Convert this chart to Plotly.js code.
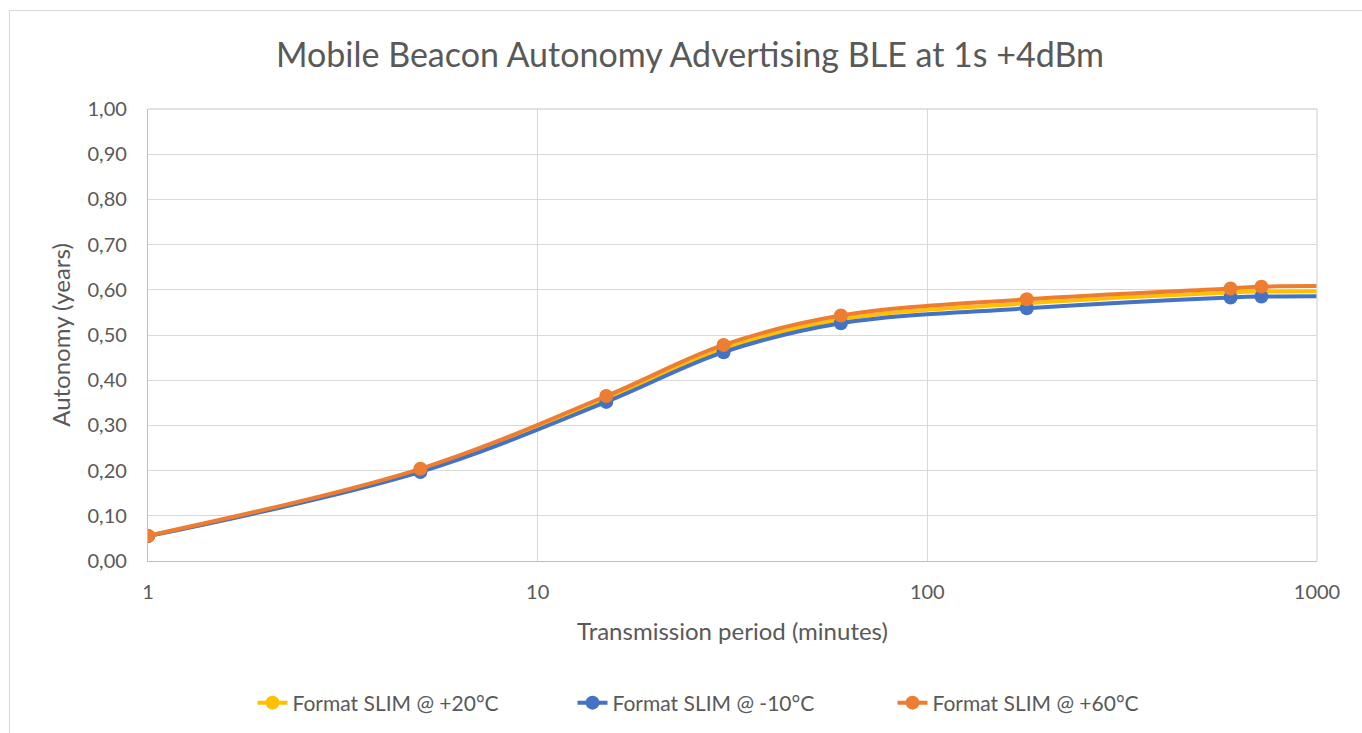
<!DOCTYPE html>
<html>
<head>
<meta charset="utf-8">
<script src="https://cdn.plot.ly/plotly-3.0.1.min.js"></script>
<style>
html,body{margin:0;padding:0;background:#fff;}
#chart{position:absolute;left:0;top:0;width:1362px;height:733px;}
#frame{position:absolute;left:9px;top:10px;width:1400px;height:800px;border-left:1px solid #d9d9d9;border-top:1px solid #d9d9d9;pointer-events:none;}
</style>
</head>
<body>
<div id="chart"></div>
<div id="frame"></div>
<script>
const periods = [1, 5, 15, 30, 60, 180, 600, 720, 1440];
const slim20 = [0.055, 0.200, 0.358, 0.470, 0.535, 0.570, 0.594, 0.596, 0.597];
const slimM10 = [0.055, 0.197, 0.352, 0.462, 0.526, 0.559, 0.583, 0.585, 0.586];
const slim60 = [0.056, 0.204, 0.365, 0.478, 0.543, 0.579, 0.603, 0.607, 0.608];
const seriesNames = ['Format SLIM @ +20°C', 'Format SLIM @ -10°C', 'Format SLIM @ +60°C'];
const colors = ['#FFC000', '#4472C4', '#ED7D31'];
const xTicks = [1, 10, 100, 1000];
const xTickText = ['1', '10', '100', '1000'];

const font = 'Lato, "Liberation Sans", sans-serif';
const txt = '#595959';

const traces = [slim20, slimM10, slim60].map((ys, i) => ({
  x: periods, y: ys, name: seriesNames[i], type: 'scatter', mode: 'lines+markers',
  line: {color: colors[i], width: 4, shape: 'spline', smoothing: 1},
  marker: {color: colors[i], size: 14},
  cliponaxis: true
}));

const layout = {
  width: 1362, height: 733,
  margin: {l: 148, r: 45, t: 109, b: 172, autoexpand: false},
  paper_bgcolor: 'rgba(0,0,0,0)', plot_bgcolor: '#fff',
  separators: ', ',
  font: {family: font, color: txt, size: 20},
  title: {text: 'Mobile Beacon Autonomy Advertising BLE at 1s +4dBm', font: {family: font, size: 34, color: txt},
          x: 690/1362, xanchor: 'center', xref: 'container', y: 1 - 55/733, yref: 'container', yanchor: 'middle'},
  xaxis: {type: 'log', range: [0, 3], tickvals: xTicks, ticktext: xTickText, automargin: false,
          showgrid: true, gridcolor: '#d9d9d9', gridwidth: 1.3,
          showline: true, linecolor: '#bfbfbf', linewidth: 1.3, mirror: false,
          zeroline: false, ticks: '', ticklen: 0, ticklabelstandoff: 13,
          tickfont: {family: font, size: 20, color: txt},
          title: {text: 'Transmission period (minutes)', font: {family: font, size: 24, color: txt}, standoff: 21}},
  yaxis: {range: [0, 1.0], dtick: 0.1, tick0: 0, tickformat: '.2f', automargin: false,
          showgrid: true, gridcolor: '#d9d9d9', gridwidth: 1.3,
          showline: true, linecolor: '#bfbfbf', linewidth: 1.3,
          zeroline: false, ticks: '', ticklen: 0, ticklabelstandoff: 16,
          tickfont: {family: font, size: 20, color: txt},
          title: {text: 'Autonomy (years)', font: {family: font, size: 24, color: txt}, standoff: 10}},
  shapes: [
    {type: 'line', xref: 'paper', yref: 'paper', x0: 1, x1: 1, y0: 0, y1: 1, line: {color: '#d9d9d9', width: 1.3}},
    {type: 'line', xref: 'paper', yref: 'paper', x0: 0, x1: 1, y0: 1, y1: 1, line: {color: '#d9d9d9', width: 1.3}}
  ],
  showlegend: true,
  legend: {orientation: 'h', x: 0.50, xanchor: 'center', y: (561-703)/452, yanchor: 'middle',
           font: {family: font, size: 21, color: txt}, entrywidth: 275, entrywidthmode: 'pixels',
           bgcolor: 'rgba(0,0,0,0)'}
};

Plotly.newPlot('chart', traces, layout, {displayModeBar: false, responsive: false});
</script>
</body>
</html>
